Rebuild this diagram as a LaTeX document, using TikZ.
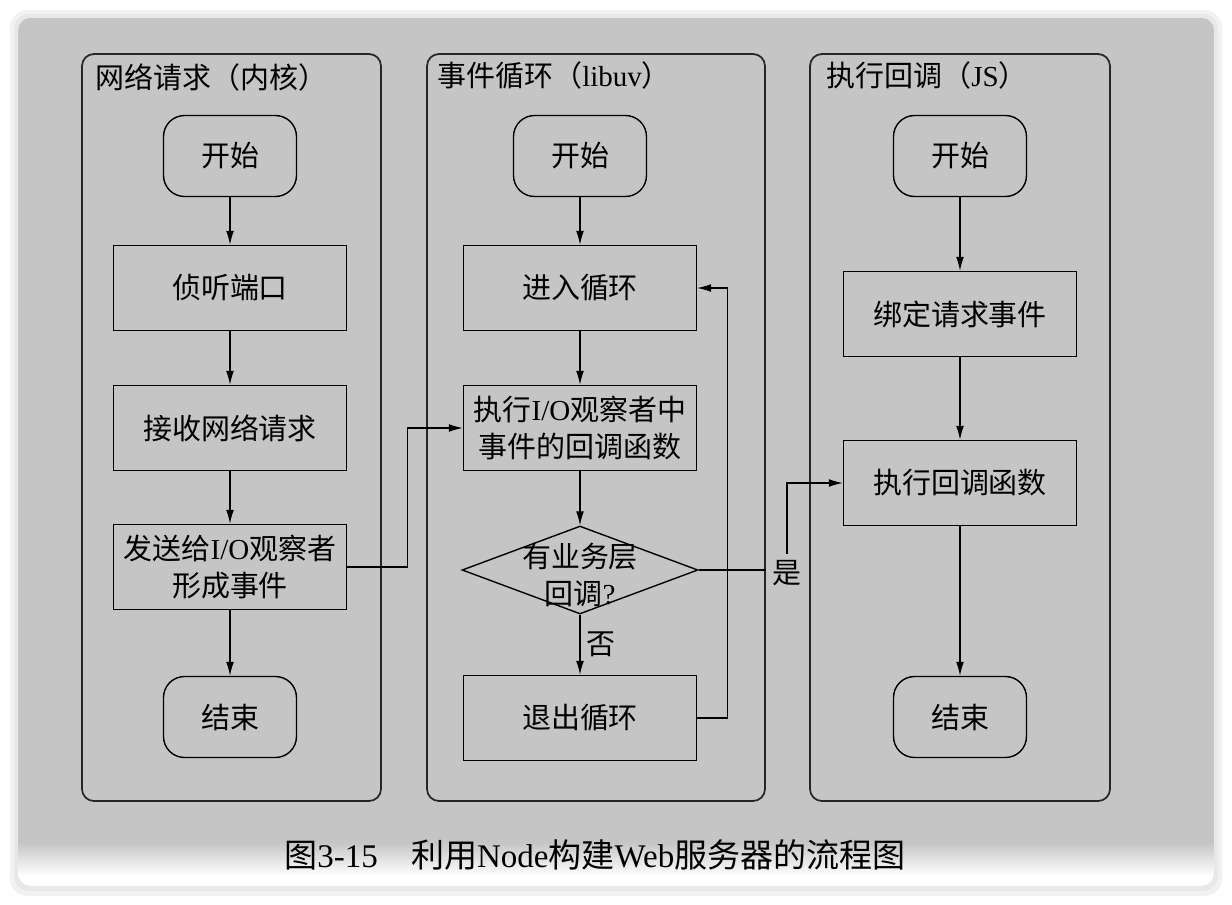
\documentclass[tikz,border=0pt]{standalone}
\usepackage{fontspec}
\setmainfont{Liberation Serif}
\newfontfamily\cjk{Noto Sans CJK SC}
\usetikzlibrary{arrows.meta,shapes.geometric}
\definecolor{bggray}{RGB}{197,197,197}
\newcommand{\lat}[1]{{\rmfamily #1}}

\begin{document}
\begin{tikzpicture}[x=0.02cm,y=-0.02cm,
  every node/.style={font=\cjk\fontsize{16.5}{21}\selectfont},
  lane/.style={draw=black!85, line width=1pt, rounded corners=0.24cm},
  terminal/.style={draw, line width=0.8pt, rounded corners=0.42cm, minimum width=2.66cm, minimum height=1.62cm},
  process/.style={draw, line width=0.8pt, minimum width=4.66cm, minimum height=1.7cm, align=center},
  decision/.style={draw, diamond, line width=0.8pt, aspect=2.68, minimum width=4.72cm, minimum height=1.76cm, inner sep=0pt},
  flow/.style={draw, line width=0.7pt, -{Latex[length=8pt,width=4.5pt]}},
  title/.style={anchor=west, inner sep=0pt}]
\useasboundingbox (0,0) rectangle (1232,904);

% card and background
\fill[white] (0,0) rectangle (1232,904);
\fill[black!5, rounded corners=0.35cm] (10,10) rectangle (1222,896);
\fill[black!9, rounded corners=0.3cm] (14,14) rectangle (1218,891);
\begin{scope}
  \clip[rounded corners=0.25cm] (18,18) rectangle (1214,886);
  \fill[bggray] (18,18) rectangle (1214,886);
  \shade[top color=bggray, bottom color=white] (18,842) rectangle (1214,876);
  \fill[white] (18,876) rectangle (1214,886);
\end{scope}

% swim lanes
\draw[lane] (82,54) rectangle (381,801);
\draw[lane] (427,54) rectangle (765,801);
\draw[lane] (810,54) rectangle (1110,801);
\node[title] (titleA) at (95,77) {网络请求（内核）};
\node[title] (titleB) at (437,75) {事件循环（\lat{libuv}）};
\node[title] (titleC) at (826,75) {执行回调（\lat{JS}）};

% kernel lane
\node[terminal] (startA) at (230,156) {开始};
\node[process] (listen) at (230,288) {侦听端口};
\node[process] (receive) at (230,428) {接收网络请求};
\node[process] (send) at (230,567) {发送给\lat{I/O}观察者\\形成事件};
\node[terminal] (endA) at (230,717) {结束};

% libuv lane
\node[terminal] (startB) at (580,156) {开始};
\node[process] (enter) at (580,288) {进入循环};
\node[process] (exec) at (580,428) {执行\lat{I/O}观察者中\\事件的回调函数};
\node[decision, label={[align=center, yshift=-0.1cm]center:有业务层\\回调\lat{?}}] (check) at (580,570) {};
\node[process] (quit) at (580,718) {退出循环};

% JS lane
\node[terminal] (startC) at (960,156) {开始};
\node[process] (bind) at (960,314) {绑定请求事件};
\node[process] (callback) at (960,483) {执行回调函数};
\node[terminal] (endC) at (960,717) {结束};

\node (yes) at (787,573) {是};

\draw[flow] (startA) -- (listen);
\draw[flow] (listen) -- (receive);
\draw[flow] (receive) -- (send);
\draw[flow] (send) -- (endA);
\draw[flow] (send.east) -- ++(60,0) |- (exec.west);

\draw[flow] (startB) -- (enter);
\draw[flow] (enter) -- (exec);
\draw[flow] (exec) -- (check);
\draw[flow] (check) -- node[right] {否} (quit);
\draw[flow] (quit.east) -- ++(30,0) |- (enter.east);
\draw[line width=0.7pt] (check.east) -- (check.east -| yes.west);
\draw[flow] (yes.north) |- (callback.west);

\draw[flow] (startC) -- (bind);
\draw[flow] (bind) -- (callback);
\draw[flow] (callback) -- (endC);

% caption
\node[font=\cjk\fontsize{18.8}{22}\selectfont] (caption) at (595,855) {图\lat{3-15}\hspace{1em}利用\lat{Node}构建\lat{Web}服务器的流程图};
\end{tikzpicture}
\end{document}
